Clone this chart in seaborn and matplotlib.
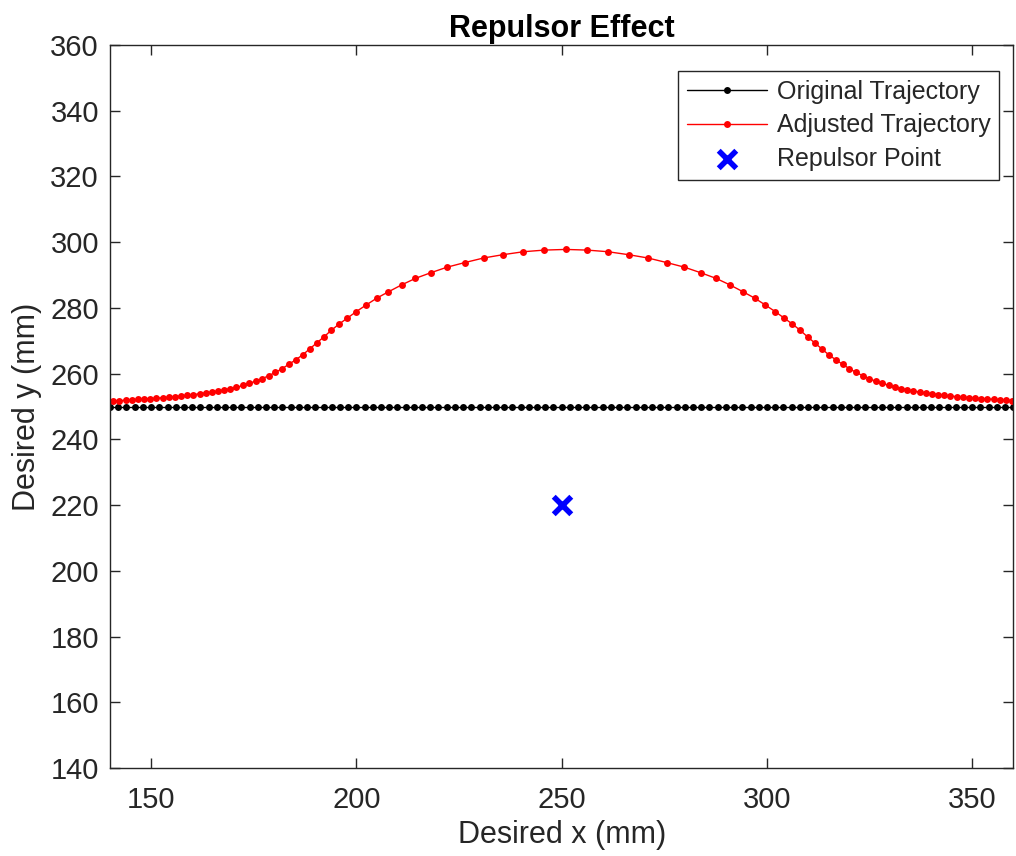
import numpy as np
import pandas as pd
import matplotlib
matplotlib.use('Agg')
import matplotlib.pyplot as plt
import seaborn as sns

# original straight path (y = 250 mm), sampled every 2 mm
origX = [140, 142, 144, 146, 148, 150, 152, 154, 156, 158,
         160, 162, 164, 166, 168, 170, 172, 174, 176, 178,
         180, 182, 184, 186, 188, 190, 192, 194, 196, 198,
         200, 202, 204, 206, 208, 210, 212, 214, 216, 218,
         220, 222, 224, 226, 228, 230, 232, 234, 236, 238,
         240, 242, 244, 246, 248, 250, 252, 254, 256, 258,
         260, 262, 264, 266, 268, 270, 272, 274, 276, 278,
         280, 282, 284, 286, 288, 290, 292, 294, 296, 298,
         300, 302, 304, 306, 308, 310, 312, 314, 316, 318,
         320, 322, 324, 326, 328, 330, 332, 334, 336, 338,
         340, 342, 344, 346, 348, 350, 352, 354, 356, 358, 360]
origY = [250] * len(origX)

# adjusted path
adjX = [133.3, 134.8, 136.3, 137.8, 139.3, 140.8, 142.3, 143.8, 145.3, 146.8,
        148.3, 149.8, 151.3, 152.8, 154.3, 155.8, 157.3, 158.8, 160.3, 161.8,
        163.3, 164.8, 166.3, 167.8, 169.3, 170.8, 172.3, 173.9, 175.5, 177.1,
        178.7, 180.3, 181.9, 183.5, 185.2, 186.9, 188.6, 190.3, 192.1, 193.9,
        195.8, 197.8, 200.0, 202.4, 205.0, 207.8, 211.0, 214.4, 218.1, 222.1,
        226.4, 231.0, 235.7, 240.7, 245.8, 251.0, 256.2, 261.3, 266.3, 271.0,
        275.6, 279.9, 283.9, 287.6, 291.0, 294.2, 297.0, 299.6, 302.0, 304.2,
        306.2, 308.1, 309.9, 311.7, 313.4, 315.1, 316.8, 318.5, 320.1, 321.7,
        323.3, 324.9, 326.5, 328.1, 329.7, 331.2, 332.7, 334.2, 335.7, 337.2,
        338.7, 340.2, 341.7, 343.2, 344.7, 346.2, 347.7, 349.2, 350.7, 352.2,
        353.7, 355.2, 356.7, 358.2, 359.7, 361.2, 362.7, 364.2, 365.7, 367.2, 368.7]
adjY = [251.3, 251.4, 251.4, 251.5, 251.6, 251.7, 251.8, 251.9, 252.0, 252.2,
        252.3, 252.4, 252.5, 252.7, 252.8, 253.0, 253.2, 253.4, 253.6, 253.9,
        254.1, 254.4, 254.7, 255.1, 255.4, 255.8, 256.4, 257.1, 257.7, 258.5,
        259.4, 260.4, 261.5, 262.8, 264.2, 265.7, 267.5, 269.3, 271.2, 273.2,
        275.1, 276.9, 278.9, 280.9, 283.0, 284.9, 287.0, 289.0, 290.7, 292.4,
        293.8, 295.2, 296.2, 297.1, 297.6, 297.8, 297.6, 297.1, 296.2, 295.2,
        293.8, 292.4, 290.7, 289.0, 287.0, 284.9, 283.0, 280.9, 278.9, 276.9,
        275.1, 273.2, 271.2, 269.3, 267.5, 265.7, 264.2, 262.8, 261.5, 260.4,
        259.4, 258.5, 257.7, 257.1, 256.4, 255.8, 255.4, 255.1, 254.7, 254.4,
        254.1, 253.9, 253.6, 253.4, 253.2, 253.0, 252.8, 252.7, 252.5, 252.4,
        252.3, 252.2, 252.0, 251.9, 251.8, 251.7, 251.6, 251.5, 251.4, 251.4, 251.3]

repX = [250]
repY = [220]

xTicks = [150, 200, 250, 300, 350]
yTicks = [140, 160, 180, 200, 220, 240, 260, 280, 300, 320, 340, 360]

sns.set_style('white')
plt.rcParams['font.family'] = ['Liberation Sans', 'DejaVu Sans']
plt.rcParams['xtick.direction'] = 'in'
plt.rcParams['ytick.direction'] = 'in'

grey = '#262626'

fig = plt.figure(figsize=(10.16, 8.56), dpi=100)
ax = fig.add_axes([0.1083, 0.1028, 0.889, 0.8446])

sns.lineplot(x=origX, y=origY, ax=ax, color='black', linewidth=1,
             marker='o', markersize=5, markeredgewidth=0,
             label='Original Trajectory', sort=False)
sns.lineplot(x=adjX, y=adjY, ax=ax, color='red', linewidth=1,
             marker='o', markersize=5, markeredgewidth=0,
             label='Adjusted Trajectory', sort=False)
sns.scatterplot(x=repX, y=repY, ax=ax, color='blue', marker='x', s=160,
                linewidth=4, label='Repulsor Point')

ax.set_xlim(140, 360)
ax.set_ylim(140, 360)
ax.set_xticks(xTicks)
ax.set_yticks(yTicks)
ax.tick_params(axis='both', labelsize=21, colors=grey, length=7, width=1,
               top=True, right=True, bottom=True, left=True)
ax.tick_params(axis='x', pad=13)
ax.tick_params(axis='y', pad=8)
for s in ax.spines.values():
    s.set_color(grey)
    s.set_linewidth(1)
    s.set_visible(True)

ax.set_xlabel('Desired x (mm)', fontsize=22, color=grey, labelpad=4)
ax.set_ylabel('Desired y (mm)', fontsize=22, color=grey, labelpad=6)
ax.set_title('Repulsor Effect', fontsize=22, fontweight='bold', color='black', pad=6)

leg = ax.legend(loc='upper right', bbox_to_anchor=(0.9845, 0.964), borderaxespad=0,
                fontsize=18, fancybox=False, framealpha=1, edgecolor=grey,
                handlelength=3.2, labelspacing=0.38, handletextpad=0.4, borderpad=0.35)
leg.get_frame().set_linewidth(1)

plt.savefig('out.png', dpi=100)
